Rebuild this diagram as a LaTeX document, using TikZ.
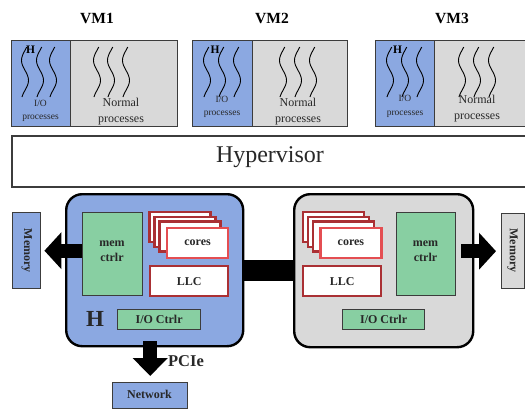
\documentclass[tikz,border=0pt]{standalone}
\usepackage{fontspec}
\setmainfont{Liberation Serif}
\usetikzlibrary{arrows.meta}
\definecolor{bluef}{RGB}{139,168,225}
\definecolor{grayf}{RGB}{217,217,217}
\definecolor{greenf}{RGB}{136,207,162}
\definecolor{darkr}{RGB}{170,48,52}
\definecolor{lightr}{RGB}{228,78,82}
\definecolor{bordc}{RGB}{60,60,60}
\definecolor{txtc}{RGB}{40,40,40}
\newcommand{\squig}[2]{\draw[squigline] plot[smooth, samples=26, domain=0:50] ({#1-3.5*sin(9*\x-30)},{#2+\x});}
\begin{document}
\begin{tikzpicture}[x=1pt,y=-1pt,
  box/.style={draw=bordc, line width=1.4pt, inner sep=0pt, anchor=north west},
  chip/.style={draw=black, line width=2.4pt, inner sep=0pt, anchor=north west, rounded corners=16pt},
  greenbox/.style={draw=bordc, line width=1.2pt, fill=greenf, inner sep=0pt, anchor=north west},
  backcore/.style={draw=darkr, line width=2.2pt, fill=white, inner sep=0pt, anchor=north west, minimum width=61pt, minimum height=30pt},
  frontcore/.style={draw=lightr, line width=2.2pt, fill=white, inner sep=0pt, anchor=north west, minimum width=61pt, minimum height=30pt},
  llcbox/.style={draw=darkr, line width=2.2pt, fill=white, inner sep=0pt, anchor=north west, minimum width=78pt, minimum height=30pt},
  lbl/.style={font=\fontsize{12}{14.5}\selectfont\bfseries, text=txtc, align=center, inner sep=0pt},
  vmlbl/.style={font=\fontsize{15.5}{18}\selectfont\bfseries, text=black, inner sep=0pt},
  iotxt/.style={font=\fontsize{9.5}{13.5}\selectfont, text=txtc, align=center, inner sep=0pt},
  normtxt/.style={font=\fontsize{12}{16}\selectfont, text=txtc, align=center, inner sep=0pt},
  smallh/.style={font=\fontsize{11.5}{12}\selectfont\bfseries, text=black, inner sep=0pt},
  squigline/.style={draw=black, line width=0.9pt},
  fat/.style={draw=black, line width=14pt, -{Triangle[length=17pt,width=36pt]}}
]
\path[use as bounding box, clip] (0,0) rectangle (525,410);

% VM labels
\node[vmlbl] (vm1l) at (97,18) {VM1};
\node[vmlbl] (vm2l) at (272,18) {VM2};
\node[vmlbl] (vm3l) at (452,18) {VM3};

% VM boxes
\node[box, fill=grayf, minimum width=107pt, minimum height=86pt] (vm1n) at (70,40) {};
\node[box, fill=bluef, minimum width=59pt, minimum height=86pt] (vm1i) at (11,40) {};
\node[box, fill=grayf, minimum width=95pt, minimum height=86pt] (vm2n) at (252,40) {};
\node[box, fill=bluef, minimum width=60pt, minimum height=86pt] (vm2i) at (192,40) {};
\node[box, fill=grayf, minimum width=110pt, minimum height=86pt] (vm3n) at (434,40) {};
\node[box, fill=bluef, minimum width=59pt, minimum height=86pt] (vm3i) at (375,40) {};

% squiggles
\squig{25}{47}\squig{40}{47}\squig{53}{47}
\squig{97}{47}\squig{111}{47}\squig{126}{47}
\squig{207}{47}\squig{222}{47}\squig{237}{47}
\squig{283}{47}\squig{298}{47}\squig{313}{47}
\squig{390}{47}\squig{405}{47}\squig{420}{47}
\squig{462}{47}\squig{477}{47}\squig{492}{47}

\node[smallh] (h1) at (30.5,50) {H};
\node[smallh] (h2) at (215,50) {H};
\node[smallh] (h3) at (397.5,50) {H};

\node[iotxt] (io1) at (40.5,111) {I/O\\processes};
\node[iotxt] (io2) at (222,107) {I/O\\processes};
\node[iotxt] (io3) at (405,106.5) {I/O\\processes};
\node[normtxt] (nm1) at (121,112) {Normal\\processes};
\node[normtxt] (nm2) at (298,112) {Normal\\processes};
\node[normtxt] (nm3) at (477,108.5) {Normal\\processes};

% Hypervisor
\node[box, draw=bordc, line width=2pt, fill=white, minimum width=530pt, minimum height=51pt] (hyp) at (11,135) {};
\node[font=\fontsize{24}{26}\selectfont, text=txtc, inner sep=0pt] (hypt) at (270,157) {Hypervisor};

% chips
\node[chip, fill=bluef, minimum width=177pt, minimum height=152pt] (chipL) at (65,193) {};
\node[chip, fill=grayf, minimum width=179pt, minimum height=153pt] (chipR) at (293,193) {};

% bar between chips
\draw[line width=21pt] (chipL.east) -- (chipL.east -| chipR.west);

% left chip content
\node[greenbox, minimum width=60pt, minimum height=83pt] (memcL) at (82,212) {};
\node[lbl] (memcLt) at (112,251) {mem\\ctrlr};
\node[backcore] (coreL1) at (148.3,211) {};
\node[backcore] (coreL2) at (153.3,215.7) {};
\node[backcore] (coreL3) at (158.3,220.3) {};
\node[frontcore] (coreL) at (166,227) {};
\node[lbl] (coreLt) at (coreL.center) {cores};
\node[llcbox] (llcL) at (149,265) {};
\node[lbl] (llcLt) at (llcL.center) {LLC};
\node[greenbox, minimum width=83pt, minimum height=20pt] (iocL) at (117,309) {};
\node[lbl] (iocLt) at (iocL.center) {I/O Ctrlr};
\node[font=\fontsize{23}{25}\selectfont\bfseries, text=txtc, inner sep=0pt] (bigH) at (95,319) {H};

% right chip content
\node[greenbox, minimum width=59pt, minimum height=83pt] (memcR) at (396,212) {};
\node[lbl] (memcRt) at (425.5,251) {mem\\ctrlr};
\node[backcore] (coreR1) at (301.7,211) {};
\node[backcore] (coreR2) at (306.7,215.7) {};
\node[backcore] (coreR3) at (311.7,220.3) {};
\node[frontcore] (coreR) at (319.3,227) {};
\node[lbl] (coreRt) at (coreR.center) {cores};
\node[llcbox] (llcR) at (302,265) {};
\node[lbl] (llcRt) at (llcR.center) {LLC};
\node[greenbox, minimum width=82pt, minimum height=20pt] (iocR) at (342,309) {};
\node[lbl] (iocRt) at (iocR.center) {I/O Ctrlr};

% memories
\node[box, fill=bluef, minimum width=28pt, minimum height=76pt] (memL) at (12,212) {};
\node[lbl, rotate=-90] (memLt) at (memL.center) {Memory};
\node[box, fill=grayf, minimum width=23pt, minimum height=75pt] (memR) at (501,213) {};
\node[lbl, rotate=-90] (memRt) at (512.5,250.5) {Memory};

% network
\node[box, fill=bluef, minimum width=75pt, minimum height=26pt] (netw) at (112,382) {};
\node[lbl] (netwt) at (149.5,394) {Network};

% fat arrows
\draw[fat, shorten >=3pt] (memcL.west |- memL.east) -- (memL.east);
\draw[fat, shorten <=5pt, shorten >=5pt] (memcR.east |- memR.west) -- (memR.west);
\path (chipL.south -| netw.north) ++(0,-6) coordinate (pcieS);
\draw[fat, -{Triangle[length=18pt,width=34pt]}, shorten >=6pt] (pcieS) -- (netw.north);
\node[font=\fontsize{16.5}{18}\selectfont\bfseries, text=txtc, inner sep=0pt] (pcie) at (186,361) {PCIe};
\end{tikzpicture}
\end{document}
